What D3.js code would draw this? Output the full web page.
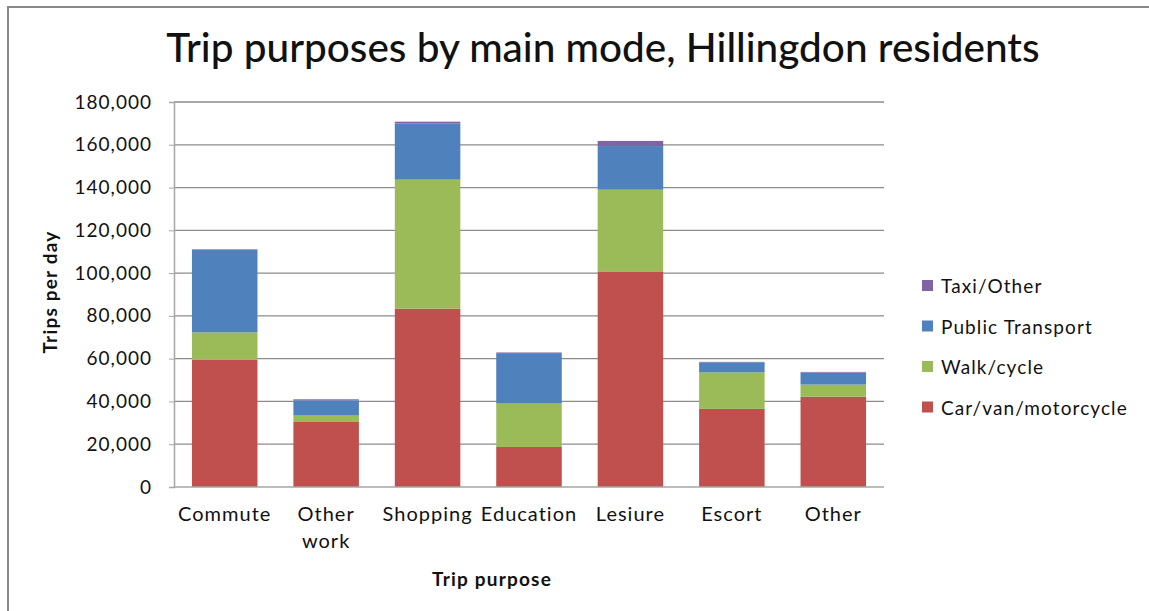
<!DOCTYPE html>
<html><head><meta charset="utf-8">
<script src="https://cdn.jsdelivr.net/npm/d3@7"></script>
<style>body{margin:0;background:#fff}svg{display:block}text{font-family:Lato,"Open Sans",sans-serif;fill:#111}</style>
</head><body><div id="c"></div>
<script>
const categories = ["Commute", "Other work", "Shopping", "Education", "Lesiure", "Escort", "Other"];
const seriesNames = ["Car/van/motorcycle", "Walk/cycle", "Public Transport", "Taxi/Other"];
const carVanMotorcycle = [59600, 30400, 83400, 18700, 100800, 36500, 42200];
const walkCycle = [12700, 3000, 60300, 20300, 38200, 17100, 5700];
const publicTransport = [38500, 7100, 26200, 23600, 20400, 4700, 5600];
const taxiOther = [300, 500, 900, 300, 2400, 200, 300];
const yTicks = [0, 20000, 40000, 60000, 80000, 100000, 120000, 140000, 160000, 180000];
const colors = ["#C0504D", "#9BBB59", "#4F81BD", "#8064A2"];

const W = 1149, H = 611;
const svg = d3.select("#c").append("svg").attr("width", W).attr("height", H);
svg.append("rect").attr("x", 8).attr("y", 7).attr("width", W + 10).attr("height", H + 10)
  .attr("fill", "#fff").attr("stroke", "#888").attr("stroke-width", 2);

const pLeft = 174, pRight = 884, pTop = 102, pBottom = 487;
const x = d3.scaleBand().domain(categories).range([pLeft, pRight]).paddingInner(0.354).paddingOuter(0.177);
const y = d3.scaleLinear().domain([0, 180000]).range([pBottom, pTop]);

// gridlines
svg.append("g").selectAll("line").data(yTicks.filter(d => d > 0)).join("line")
  .attr("x1", pLeft).attr("x2", pRight).attr("y1", d => y(d)).attr("y2", d => y(d))
  .attr("stroke", "#8c8c8c").attr("stroke-width", 1.3);

const rows = categories.map((c, i) => ({cat: c, s0: carVanMotorcycle[i], s1: walkCycle[i], s2: publicTransport[i], s3: taxiOther[i]}));
const stack = d3.stack().keys(["s0", "s1", "s2", "s3"])(rows);
svg.append("g").selectAll("g").data(stack).join("g").attr("fill", (d, i) => colors[i])
  .selectAll("rect").data(d => d).join("rect")
  .attr("x", d => x(d.data.cat)).attr("width", x.bandwidth())
  .attr("y", d => y(d[1])).attr("height", d => y(d[0]) - y(d[1]));

// axes
const yAxis = svg.append("g").attr("transform", `translate(${pLeft},0)`)
  .call(d3.axisLeft(y).tickValues(yTicks).tickFormat(d3.format(",")).tickSize(5).tickPadding(17));
yAxis.select(".domain").attr("stroke", "#a6a6a6").attr("stroke-width", 1.5);
yAxis.selectAll(".tick line").attr("stroke", "#a6a6a6");
yAxis.selectAll("text").attr("font-size", 19).attr("letter-spacing", 1).attr("fill", "#222").style("font-family", "Lato");

svg.append("line").attr("x1", pLeft).attr("x2", pRight).attr("y1", pBottom).attr("y2", pBottom)
  .attr("stroke", "#a6a6a6").attr("stroke-width", 1.5);

const xt = svg.append("g");
categories.forEach(c => {
  const t = xt.append("text").attr("x", x(c) + x.bandwidth() / 2).attr("y", 521)
    .attr("text-anchor", "middle").attr("font-size", 20).attr("letter-spacing", 1).attr("fill", "#222");
  const parts = c === "Other work" ? ["Other", "work"] : [c];
  parts.forEach((p, k) => t.append("tspan").attr("x", x(c) + x.bandwidth() / 2).attr("dy", k ? 27 : 0).text(p));
});

svg.append("text").attr("x", 603).attr("y", 62).attr("text-anchor", "middle")
  .attr("font-size", 40.5).attr("font-weight", 500).attr("fill", "#000").text("Trip purposes by main mode, Hillingdon residents");

svg.append("text").attr("transform", "translate(57,292) rotate(-90)").attr("text-anchor", "middle")
  .attr("font-size", 19).attr("letter-spacing", 1.2).attr("font-weight", "bold").attr("fill", "#000").text("Trips per day");
svg.append("text").attr("x", 492).attr("y", 586).attr("text-anchor", "middle")
  .attr("font-size", 19).attr("letter-spacing", 1.2).attr("font-weight", "bold").attr("fill", "#000").text("Trip purpose");

const legendOrder = [3, 2, 1, 0];
const lg = svg.append("g");
legendOrder.forEach((si, k) => {
  const yy = 286 + k * 40.5;
  lg.append("rect").attr("x", 922).attr("y", yy - 6).attr("width", 11).attr("height", 11).attr("fill", colors[si]);
  lg.append("text").attr("x", 941).attr("y", yy + 7).attr("font-size", 19).attr("letter-spacing", 1.1).attr("fill", "#222").text(seriesNames[si]);
});
</script></body></html>
